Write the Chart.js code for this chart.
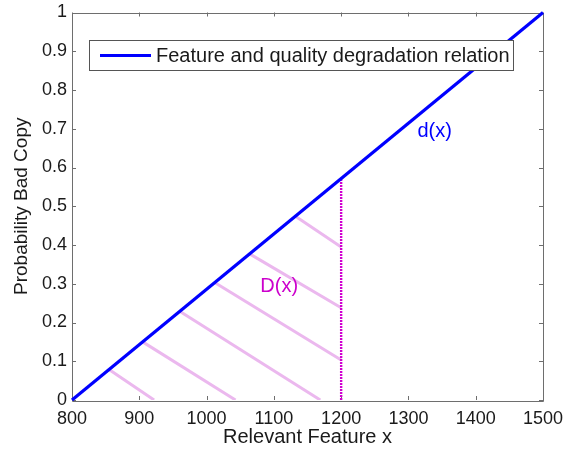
<!DOCTYPE html>
<html><head><meta charset="utf-8">
<script src="https://cdn.jsdelivr.net/npm/chart.js@4/dist/chart.umd.min.js"></script>
<style>html,body{margin:0;padding:0;background:#fff;}canvas{display:block;}</style>
</head><body>
<canvas id="c" width="571" height="450"></canvas>
<script>
const xTickValues = [800, 900, 1000, 1100, 1200, 1300, 1400, 1500];
const yTickLabels = ['0','0.1','0.2','0.3','0.4','0.5','0.6','0.7','0.8','0.9','1'];
const relationX = [800, 1500];
const relationY = [0, 1];
const cutoffX = [1200, 1200];
const cutoffY = [0, 0.571];
const hatchStartX = [855, 905, 960, 1012, 1064, 1132];
const hatchStartY = [0.079, 0.150, 0.229, 0.303, 0.377, 0.474];
const hatchEndX = [922, 1043, 1169, 1200, 1200, 1200];
const hatchEndY = [0, 0, 0, 0.103, 0.238, 0.395];
const labelTexts = ['d(x)', 'D(x)'];
const labelX = [1339, 1108];
const labelY = [0.694, 0.294];
const labelColors = ['#0000ff', '#cc00cc'];
const legendLabel = 'Feature and quality degradation relation';

const FONT = "'Liberation Sans', Arial, sans-serif";
const pts = (xs, ys) => xs.map((x, i) => ({x, y: ys[i]}));

const datasets = [
  {label: legendLabel, data: pts(relationX, relationY), borderColor: '#0000ff', borderWidth: 3.2, showLine: true, pointRadius: 0, clip: false},
  {label: 'cutoff', data: pts(cutoffX, cutoffY), borderColor: '#d000d0', borderWidth: 2.4, borderDash: [2, 1], showLine: true, pointRadius: 0}
];
hatchStartX.forEach((sx, i) => {
  datasets.push({label: 'hatch' + i, data: [{x: sx, y: hatchStartY[i]}, {x: hatchEndX[i], y: hatchEndY[i]}],
    borderColor: '#ebb8ee', borderWidth: 3, showLine: true, pointRadius: 0});
});

const framePlugin = {
  id: 'frame',
  beforeDatasetsDraw(chart) {
    const {ctx, chartArea: a, scales: {x, y}} = chart;
    ctx.save();
    ctx.strokeStyle = '#6e6e6e';
    ctx.lineWidth = 1;
    ctx.beginPath();
    ctx.rect(Math.round(a.left) + 0.5, Math.round(a.top) + 0.5, Math.round(a.right - a.left), Math.round(a.bottom - a.top));
    const tl = 4;
    x.ticks.forEach(t => {
      const px = Math.round(x.getPixelForValue(t.value)) + 0.5;
      ctx.moveTo(px, a.bottom); ctx.lineTo(px, a.bottom - tl);
      ctx.moveTo(px, a.top); ctx.lineTo(px, a.top + tl);
    });
    y.ticks.forEach(t => {
      const py = Math.round(y.getPixelForValue(t.value)) + 0.5;
      ctx.moveTo(a.left, py); ctx.lineTo(a.left + tl, py);
      ctx.moveTo(a.right, py); ctx.lineTo(a.right - tl, py);
    });
    ctx.stroke();
    ctx.restore();
  },
  afterDatasetsDraw(chart) {
    const {ctx, scales: {x, y}} = chart;
    ctx.save();
    ctx.font = '20px ' + FONT;
    ctx.textAlign = 'center';
    ctx.textBaseline = 'middle';
    labelTexts.forEach((t, i) => {
      ctx.fillStyle = labelColors[i];
      ctx.fillText(t, x.getPixelForValue(labelX[i]), y.getPixelForValue(labelY[i]));
    });
    const bx = 89.5, by = 40.5, bw = 424, bh = 30;
    ctx.fillStyle = '#ffffff';
    ctx.fillRect(bx, by, bw, bh);
    ctx.strokeStyle = '#555555';
    ctx.lineWidth = 1;
    ctx.strokeRect(bx, by, bw, bh);
    const ds = chart.data.datasets[0];
    ctx.strokeStyle = ds.borderColor;
    ctx.lineWidth = 3.2;
    ctx.beginPath();
    ctx.moveTo(100, 55.5); ctx.lineTo(151, 55.5);
    ctx.stroke();
    ctx.fillStyle = '#1a1a1a';
    ctx.textAlign = 'left';
    ctx.fillText(ds.label, 156, 56);
    ctx.restore();
  }
};

new Chart(document.getElementById('c'), {
  type: 'scatter',
  data: {datasets},
  options: {
    responsive: false,
    animation: false,
    devicePixelRatio: 1,
    layout: {padding: {top: 12.5, right: 28, left: 0, bottom: 0}},
    plugins: {legend: {display: false}, tooltip: {enabled: false}},
    elements: {line: {tension: 0}},
    scales: {
      x: {
        type: 'linear', min: 800, max: 1500,
        afterFit(s) { s.height = 50; s.paddingLeft = 0; s.paddingRight = 0; },
        afterBuildTicks(s) { s.ticks = xTickValues.map(v => ({value: v})); },
        grid: {display: false, drawTicks: false},
        border: {display: false},
        ticks: {font: {size: 18, family: FONT}, color: '#1a1a1a', padding: 8, maxRotation: 0, autoSkip: false,
          callback: (v) => String(v)},
        title: {display: true, text: 'Relevant Feature x', font: {size: 20, family: FONT}, color: '#1a1a1a', padding: {top: 0, bottom: 1}}
      },
      y: {
        type: 'linear', min: 0, max: 1,
        afterFit(s) { s.width = 72; s.paddingTop = 0; s.paddingBottom = 0; },
        afterBuildTicks(s) { s.ticks = yTickLabels.map((l, i) => ({value: i / 10})); },
        grid: {display: false, drawTicks: false},
        border: {display: false},
        ticks: {font: {size: 18, family: FONT}, color: '#1a1a1a', padding: 5, autoSkip: false,
          callback: (v, i) => yTickLabels[i]},
        title: {display: true, text: 'Probability Bad Copy', font: {size: 19, family: FONT}, color: '#1a1a1a', padding: {top: 10, bottom: 0}}
      }
    }
  },
  plugins: [framePlugin]
});
</script>
</body></html>
